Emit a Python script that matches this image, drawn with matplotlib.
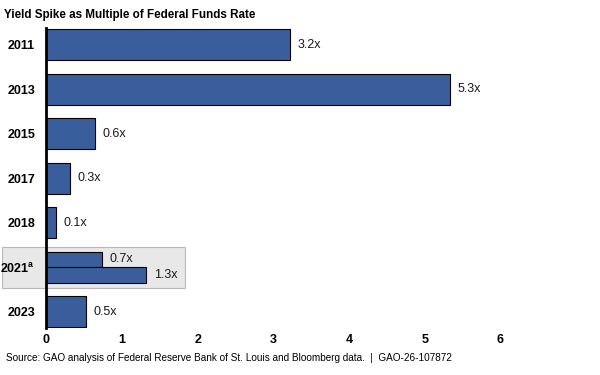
import matplotlib.pyplot as plt
from matplotlib.patches import Rectangle
import matplotlib.transforms as mtransforms

plt.rcParams['font.family'] = ['Liberation Sans', 'DejaVu Sans']

years = ['2011', '2013', '2015', '2017', '2018', '2021$^\\mathregular{a}$', '2023']
# one bar per year except 2021 (two bars)
bar_year_idx = [0, 1, 2, 3, 4, 5, 5, 6]
bar_offset = [0, 0, 0, 0, 0, -0.175, 0.175, 0]
bar_height = [0.7, 0.7, 0.7, 0.7, 0.7, 0.35, 0.35, 0.7]
values = [3.22, 5.33, 0.64, 0.32, 0.13, 0.74, 1.32, 0.53]
labels = ['3.2x', '5.3x', '0.6x', '0.3x', '0.1x', '0.7x', '1.3x', '0.5x']
xticks = [0, 1, 2, 3, 4, 5, 6]

bar_color = '#3A5E9C'

fig = plt.figure(figsize=(6, 3.75), dpi=100)
ax = fig.add_axes([0.077, 0.1253, 0.82, 0.8])

# highlight box behind 2021
trans = mtransforms.blended_transform_factory(fig.transFigure, ax.transData)
box = Rectangle((0.004, 5 - 0.46), 0.304, 0.92, transform=trans,
                facecolor='#e8e8e8', edgecolor='#b8b8b8', linewidth=0.8,
                clip_on=False, zorder=-1)
fig.patches.append(box)
ax.patch.set_alpha(0)

ypos = [i + o for i, o in zip(bar_year_idx, bar_offset)]
ax.barh(ypos, values, height=bar_height, color=bar_color,
        edgecolor='black', linewidth=0.8, zorder=2)
for y, v, lab in zip(ypos, values, labels):
    ax.text(v + 0.1, y, lab, va='center', ha='left', fontsize=9, color='#1a1a1a')

ax.set_yticks(range(len(years)))
ax.set_yticklabels(years, fontweight='bold', fontsize=9)
ax.set_xticks(xticks)
ax.set_xticklabels([str(t) for t in xticks], fontweight='bold', fontsize=9)
ax.tick_params(length=0)
ax.tick_params(axis='y', pad=8)
ax.tick_params(axis='x', pad=4)
ax.set_xlim(0, 6.5)
ax.set_ylim(6.37, -0.38)
for s in ['top', 'right', 'bottom']:
    ax.spines[s].set_visible(False)
ax.spines['left'].set_linewidth(2)
ax.spines['left'].set_zorder(3)

fig.text(0.006, 0.96, 'Yield Spike as Multiple of Federal Funds Rate',
         fontsize=8.4, fontweight='bold', va='center', ha='left')
fig.text(0.01, 0.045, 'Source: GAO analysis of Federal Reserve Bank of St. Louis and Bloomberg data.  |  GAO-26-107872',
         fontsize=7.2, va='center', ha='left')

fig.savefig('out.png', dpi=100)
